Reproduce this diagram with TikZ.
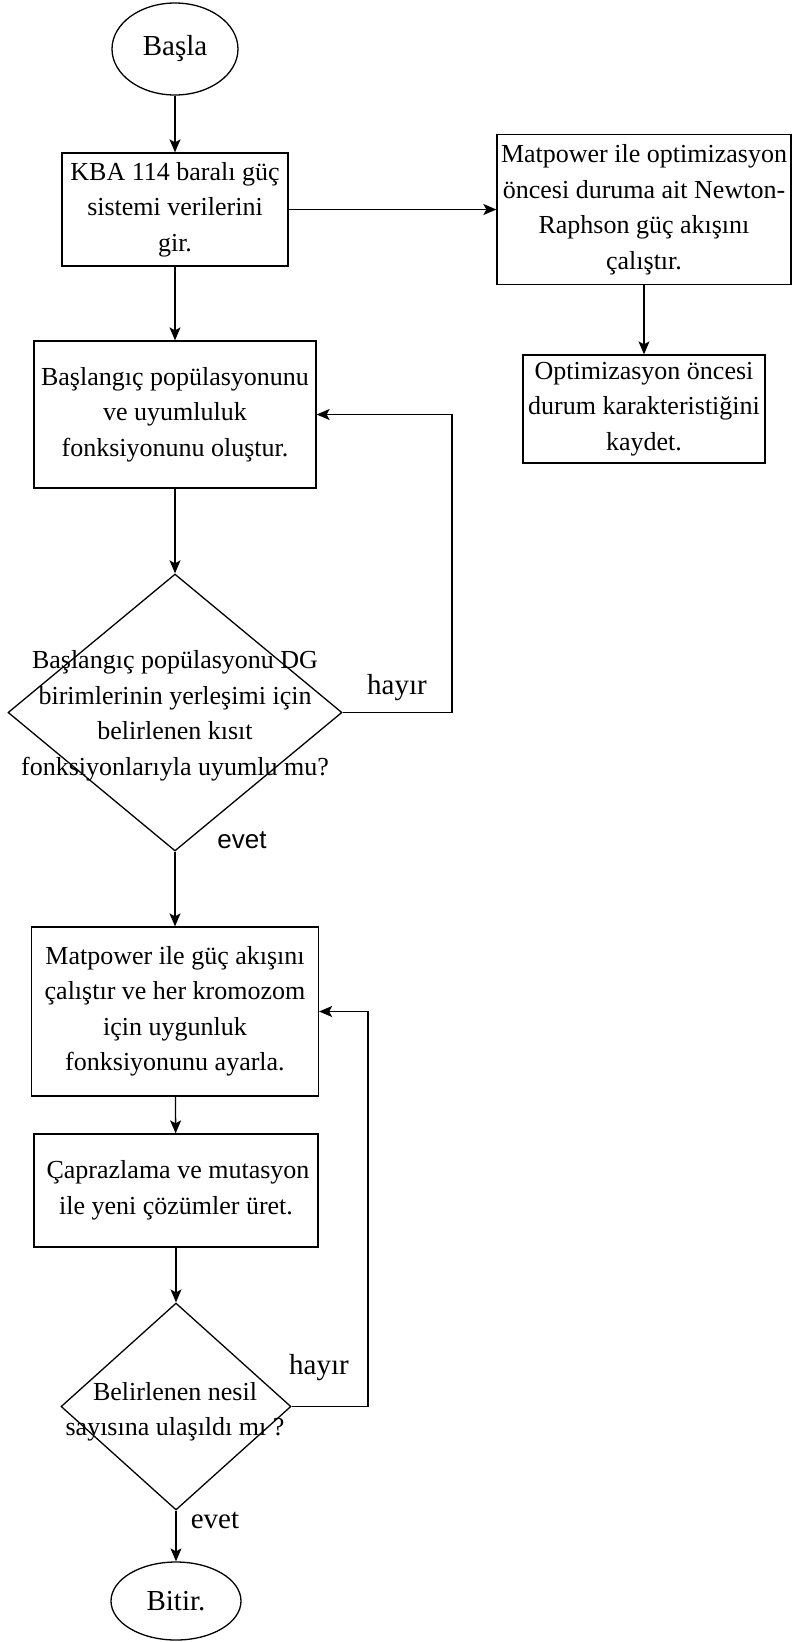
\documentclass[tikz,border=0pt]{standalone}
\usepackage{fontspec}
\setmainfont{Liberation Serif}
\newfontfamily\etiketsans{Liberation Sans}
\usepackage{tikz}
\usetikzlibrary{arrows.meta,positioning,shapes.geometric}
\tikzset{
  akis/.style={-{Stealth[length=13pt,width=11pt,inset=3pt]},line width=1.3pt},
  kutu/.style={draw,line width=1.3pt,align=center,inner sep=0pt,font=\fontsize{26}{35.5}\selectfont},
  uckutu/.style={draw,ellipse,line width=1.3pt,inner sep=0pt,font=\fontsize{29}{35}\selectfont},
  karar/.style={draw,diamond,line width=1.3pt,inner sep=0pt},
  kararyazi/.style={align=center,inner sep=0pt,font=\fontsize{26}{35.5}\selectfont},
  etiket/.style={inner sep=0pt,font=\fontsize{29}{35}\selectfont},
  etiketsf/.style={inner sep=0pt,font=\etiketsans\fontsize{26}{30}\selectfont}
}
\begin{document}
\begin{tikzpicture}[x=1pt,y=-1pt]
  \useasboundingbox (0,0) rectangle (793,1642);
  \node[uckutu,minimum width=126pt,minimum height=92pt] (basla) at (175,49) {Başla};
  \node[kutu,minimum width=226pt,minimum height=113pt] (kba) at (175,209.5)
    {KBA 114 baralı güç\\sistemi verilerini\\gir.};
  \node[kutu,minimum width=294pt,minimum height=150pt] (newton) at (644,209.5)
    {Matpower ile optimizasyon\\öncesi duruma ait Newton-\\Raphson güç akışını\\çalıştır.};
  \node[kutu,minimum width=242pt,minimum height=108pt] (kaydet) at (644,409)
    {Optimizasyon öncesi\\durum karakteristiğini\\kaydet.};
  \node[kutu,minimum width=282pt,minimum height=147pt] (populasyon) at (175,414.5)
    {Başlangıç popülasyonunu\\ve uyumluluk\\fonksiyonunu oluştur.};
  \node[karar,minimum width=334pt,minimum height=277pt] (karar1) at (175,712.5) {};
  \node[kararyazi] (karar1yazi) at (175,716)
    {Başlangıç popülasyonu DG\\birimlerinin yerleşimi için\\belirlenen kısıt\\fonksiyonlarıyla uyumlu mu?};
  \node[kutu,minimum width=287pt,minimum height=169pt] (gucakisi) at (175,1011.5)
    {Matpower ile güç akışını\\çalıştır ve her kromozom\\için uygunluk\\fonksiyonunu ayarla.};
  \node[kutu,minimum width=284pt,minimum height=113pt] (caprazlama) at (176,1190.5)
    {\hspace{4pt}Çaprazlama ve mutasyon\\ile yeni çözümler üret.};
  \node[karar,minimum width=230pt,minimum height=207pt] (karar2) at (176,1406.5) {};
  \node[kararyazi] (karar2yazi) at (175,1412)
    {Belirlenen nesil\\sayısına ulaşıldı mı ?};
  \node[uckutu,minimum width=130pt,minimum height=78pt] (bitir) at (176,1601) {Bitir.};
  \coordinate (donus1) at (452,712.5);
  \coordinate (donus2) at (368,1406.5);
  \draw[akis] (basla) -- (kba);
  \draw[akis] (kba) -- (newton);
  \draw[akis] (newton) -- (kaydet);
  \draw[akis] (kba) -- (populasyon);
  \draw[akis] (populasyon) -- (karar1);
  \draw[akis] (karar1.east) -| (donus1) |- (populasyon.east);
  \draw[akis] (karar1.south) -- (gucakisi.north);
  \draw[akis] (gucakisi) -- (caprazlama);
  \draw[akis] (caprazlama.south) -- (karar2.north);
  \draw[akis] (karar2.east) -| (donus2) |- (gucakisi.east);
  \draw[akis] (karar2.south) -- (bitir.north);
  \node[etiket] (hayir1) at (397,688) {hayır};
  \node[etiketsf] (evet1) at (242,840) {evet};
  \node[etiket] (hayir2) at (319,1368) {hayır};
  \node[etiket] (evet2) at (215,1520) {evet};
\end{tikzpicture}
\end{document}
